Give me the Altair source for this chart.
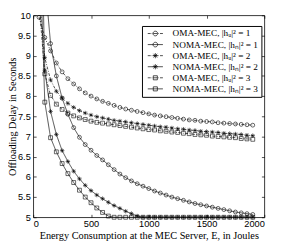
import altair as alt
import pandas as pd

# ---------------- data ----------------
energy = [50, 100, 150, 200, 250, 300, 350, 400, 450, 500, 550, 600, 650, 700, 750,
          800, 850, 900, 950, 1000, 1050, 1100, 1150, 1200, 1250, 1300, 1350, 1400,
          1450, 1500, 1550, 1600, 1650, 1700, 1750, 1800, 1850, 1900]

oma_1 = [9.95, 9.45, 9.12, 8.82, 8.60, 8.43, 8.30, 8.18, 8.08, 8.00, 7.93, 7.87, 7.82,
         7.77, 7.72, 7.68, 7.65, 7.62, 7.59, 7.56, 7.53, 7.51, 7.49, 7.47, 7.45, 7.43,
         7.41, 7.40, 7.38, 7.37, 7.36, 7.34, 7.33, 7.32, 7.31, 7.30, 7.29, 7.28]
noma_1 = [15.0, 10.9, 9.30, 8.50, 7.95, 7.55, 7.22, 6.98, 6.80, 6.66, 6.53, 6.42, 6.30,
          6.18, 6.07, 5.98, 5.90, 5.83, 5.77, 5.71, 5.65, 5.60, 5.55, 5.50, 5.46, 5.42,
          5.38, 5.34, 5.31, 5.28, 5.25, 5.22, 5.19, 5.16, 5.13, 5.11, 5.09, 5.07]
oma_2 = [10.4, 8.95, 8.40, 8.12, 7.95, 7.82, 7.72, 7.64, 7.58, 7.53, 7.49, 7.46, 7.43,
         7.40, 7.38, 7.36, 7.34, 7.32, 7.30, 7.28, 7.26, 7.24, 7.23, 7.21, 7.19, 7.18,
         7.16, 7.15, 7.13, 7.12, 7.11, 7.10, 7.08, 7.07, 7.06, 7.05, 7.03, 7.02]
noma_2 = [15.0, 8.64, 7.62, 7.05, 6.65, 6.38, 6.14, 5.95, 5.79, 5.66, 5.55, 5.46, 5.37,
          5.29, 5.22, 5.15, 5.09, 5.03, 5.00, 5.00, 5.00, 5.00, 5.00, 5.00, 5.00, 5.00,
          5.00, 5.00, 5.00, 5.00, 5.00, 5.00, 5.00, 5.00, 5.00, 5.00, 5.00, 5.00]
oma_3 = [10.3, 8.55, 8.02, 7.80, 7.67, 7.58, 7.51, 7.46, 7.42, 7.38, 7.35, 7.33, 7.31,
         7.29, 7.27, 7.25, 7.23, 7.21, 7.19, 7.17, 7.16, 7.14, 7.13, 7.11, 7.10, 7.08,
         7.07, 7.05, 7.04, 7.03, 7.01, 7.00, 6.99, 6.98, 6.97, 6.95, 6.94, 6.93]
noma_3 = [12.3, 7.85, 6.97, 6.62, 6.33, 6.08, 5.86, 5.67, 5.50, 5.36, 5.23, 5.12, 5.03,
          5.00, 5.00, 5.00, 5.00, 5.00, 5.00, 5.00, 5.00, 5.00, 5.00, 5.00, 5.00, 5.00,
          5.00, 5.00, 5.00, 5.00, 5.00, 5.00, 5.00, 5.00, 5.00, 5.00, 5.00, 5.00]

series_labels = ["OMA-MEC, |hᵤ|² = 1", "NOMA-MEC, |hₙ|² = 1",
                 "OMA-MEC, |hᵤ|² = 2", "NOMA-MEC, |hₙ|² = 2",
                 "OMA-MEC, |hᵤ|² = 3", "NOMA-MEC, |hₙ|² = 3"]
series_values = [oma_1, noma_1, oma_2, noma_2, oma_3, noma_3]

x_ticks = [0, 500, 1000, 1500, 2000]
y_ticks = [5, 5.5, 6, 6.5, 7, 7.5, 8, 8.5, 9, 9.5, 10]

x_title = "Energy Consumption at the MEC Server, E, in Joules"
y_title = "Offloading Delay in Seconds"

# ---------------- table ----------------
rows = []
for lab, vals in zip(series_labels, series_values):
    for e, d in zip(energy, vals):
        rows.append({"E": e, "D": d, "series": lab})
df = pd.DataFrame(rows)
legend_df = pd.DataFrame({"series": series_labels})

# ---------------- styles ----------------
ASTER = "M0,-1.15L0,1.15M-1.15,0L1.15,0M-0.8,-0.8L0.8,0.8M-0.8,0.8L0.8,-0.8"
plot_shapes = ["circle", "circle", ASTER, ASTER, "square", "square"]
dashes = [[3, 1.5, 1, 1.5], [1, 0], [3, 1.5, 1, 1.5], [1, 0], [3, 1.5, 1, 1.5], [1, 0]]

SOLID = "M-2.6,0L2.6,0"
DASHDOT = "M-2.6,0L-1.6,0M-1.25,0L-1.05,0M-0.7,0L0.7,0M1.05,0L1.25,0M1.6,0L2.6,0"
CIRC = "M0.8,0A0.8,0.8 0 1,1 -0.8,0A0.8,0.8 0 1,1 0.8,0"
SQ = "M-0.7,-0.7L0.7,-0.7L0.7,0.7L-0.7,0.7Z"
AST = "M0,-0.9L0,0.9M-0.9,0L0.9,0M-0.64,-0.64L0.64,0.64M-0.64,0.64L0.64,-0.64"
legend_shapes = [DASHDOT + CIRC, SOLID + CIRC, DASHDOT + AST, SOLID + AST,
                 DASHDOT + SQ, SOLID + SQ]

W, H = 238, 208
SANS = "Liberation Sans"
SERIF = "Liberation Serif"

xscale = alt.Scale(domain=[0, 2000], nice=False, zero=False)
yscale = alt.Scale(domain=[5, 10], nice=False, zero=False)

lines = alt.Chart(df).mark_line(clip=True, color="black", strokeWidth=0.7).encode(
    x=alt.X("E:Q", scale=xscale,
            axis=alt.Axis(orient="bottom", values=x_ticks, format="d", offset=-3,
                          tickSize=3, domain=False, grid=False, labelPadding=2,
                          labelFont=SANS, labelFontSize=9.5, labelColor="black",
                          tickColor="black", tickWidth=0.7,
                          title=x_title, titleFont=SERIF, titleFontSize=10.6,
                          titleFontWeight="normal", titleColor="black",
                          titleX=W / 2, titleY=22, titleBaseline="middle")),
    y=alt.Y("D:Q", scale=yscale,
            axis=alt.Axis(orient="left", values=y_ticks, format="~g", offset=-3,
                          tickSize=3, domain=False, grid=False, labelPadding=3,
                          labelFont=SANS, labelFontSize=9.5, labelColor="black",
                          tickColor="black", tickWidth=0.7,
                          title=y_title, titleFont=SERIF, titleFontSize=10.5,
                          titleFontWeight="normal", titleColor="black",
                          titleX=-21.5, titleY=H / 2, titleAngle=-90,
                          titleBaseline="alphabetic")),
    strokeDash=alt.StrokeDash("series:N", scale=alt.Scale(domain=series_labels, range=dashes),
                              legend=None),
    detail="series:N",
)

points = alt.Chart(df).transform_filter("datum.D <= 10").mark_point(
    filled=False, color="black", strokeWidth=0.6, size=16, opacity=1
).encode(
    x=alt.X("E:Q", scale=xscale,
            axis=alt.Axis(orient="top", values=x_ticks, labels=False, offset=-3,
                          tickSize=3, domain=False, grid=False, title=None,
                          tickColor="black", tickWidth=0.7)),
    y=alt.Y("D:Q", scale=yscale,
            axis=alt.Axis(orient="right", values=y_ticks, labels=False, offset=-3,
                          tickSize=3, domain=False, grid=False, title=None,
                          tickColor="black", tickWidth=0.7)),
    shape=alt.Shape("series:N", scale=alt.Scale(domain=series_labels, range=plot_shapes),
                    legend=None),
)

legend_layer = alt.Chart(legend_df).mark_point(
    filled=False, color="black", opacity=0
).encode(
    shape=alt.Shape("series:N",
                    scale=alt.Scale(domain=series_labels, range=legend_shapes),
                    legend=alt.Legend(orient="none", legendX=112, legendY=11, title=None,
                                      strokeColor="black", fillColor="white", padding=3,
                                      symbolSize=36, symbolStrokeWidth=0.7,
                                      symbolStrokeColor="black", symbolFillColor="transparent",
                                      symbolOffset=6, labelOffset=13, rowPadding=0.4,
                                      labelFont=SERIF, labelFontSize=9.5,
                                      labelColor="black", labelLimit=300)),
)

chart = alt.layer(lines, points, legend_layer).resolve_scale(
    shape="independent"
).resolve_legend(shape="independent").resolve_axis(
    x="independent", y="independent"
).properties(
    width=W, height=H,
    autosize=alt.AutoSizeParams(type="none"),
    padding={"left": 26, "top": 4, "right": 11, "bottom": 24},
    background="white",
).configure_view(stroke="black", strokeWidth=0.8)

chart.save("out.html", embed_options={"renderer": "svg", "actions": False})
